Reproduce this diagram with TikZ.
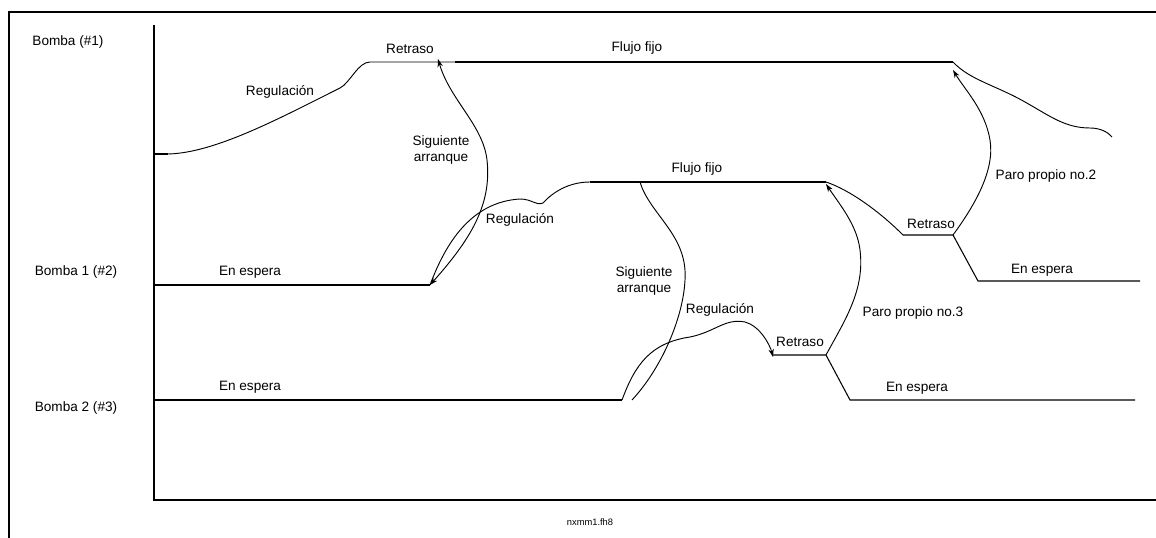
\documentclass[tikz,border=0pt]{standalone}
\usepackage{fontspec}
\setmainfont{Liberation Sans}
\usetikzlibrary{arrows.meta}

\begin{document}
\begin{tikzpicture}[x=0.75pt,y=-0.75pt,
		lbl/.style={inner sep=0pt, font=\fontsize{10.2}{11.5}\selectfont},
		lbl2/.style={lbl, align=center},
		frame/.style={line width=1.4pt},
		run/.style={line width=0.8pt},
		fixed/.style={line width=1.6pt},
		link/.style={line width=0.7pt},
		tip/.style={-{Stealth[length=6pt,width=4pt]}}]
			\useasboundingbox (0,0) rectangle (1156,538);

			% frame and axes
			\coordinate (fa) at (9,12);
			\coordinate (fb) at (1156,12);
			\coordinate (fc) at (9,538);
			\coordinate (o) at (154,500);
			\coordinate (yt) at (154,25);
			\coordinate (xr) at (1156,500);
			\draw[frame] (fc) -- (fa) -- (fb);
			\draw[frame] (yt) -- (o) -- (xr);

			% row names
			\node	(n1) at (68,42) [lbl] {Bomba (\#1)};
			\node	(n2) at (76,272) [lbl] {Bomba 1 (\#2)};
			\node	(n3) at (76,408) [lbl] {Bomba 2 (\#3)};

			% Bomba (#1)
			\coordinate (a0) at (154,154);
			\coordinate (a1) at (168,154);
			\coordinate (a2) at (340,88);
			\coordinate (a3) at (370,62);
			\coordinate (a4) at (455,62);
			\coordinate (a5) at (953,62);
			\coordinate (a6) at (1025,102);
			\coordinate (a7) at (1090,128);
			\coordinate (a8) at (1112,137);
			\draw[fixed] (a0) -- (a1);
			\draw[link] (a1) .. controls (215,153) and (280,118) .. (a2)
				.. controls (350,83) and (358,62) .. (a3) -- (a4);
			\draw[fixed] (a4) -- (a5);
			\draw[link] (a5) .. controls (970,80) and (995,85) .. (a6)
				.. controls (1050,116) and (1065,128) .. (a7)
				.. controls (1100,128) and (1108,132) .. (a8);

			\node	(r1) at (280,92) [lbl] {Regulación};
			\node	(d1) at (410,49) [lbl] {Retraso};
			\node	(f1) at (637,48) [lbl] {Flujo fijo};

			% Bomba 1 (#2)
			\coordinate (b0) at (154,285);
			\coordinate (b1) at (430,285);
			\coordinate (b2) at (520,199);
			\coordinate (b3) at (543,203);
			\coordinate (b4) at (590,182);
			\coordinate (b5) at (826,182);
			\coordinate (b6) at (903,235);
			\coordinate (b7) at (953,235);
			\coordinate (b8) at (978,281);
			\coordinate (b9) at (1140,281);
			\draw[run] (b0) -- (b1);
			\draw[link] (b1) .. controls (445,245) and (470,202) .. (b2)
				.. controls (532,199) and (536,206) .. (b3)
				.. controls (552,193) and (568,182) .. (b4);
			\draw[run] (b4) -- (b5);
			\draw[link] (b5) .. controls (850,190) and (880,212) .. (b6);
			\draw[run] (b6) -- (b7) -- (b8) -- (b9);

			\node	(e2) at (250,272) [lbl] {En espera};
			\node	(r2) at (520,220) [lbl] {Regulación};
			\node	(f2) at (697,169) [lbl] {Flujo fijo};
			\node	(d2) at (931,224) [lbl] {Retraso};
			\node	(w2) at (1042,270) [lbl] {En espera};

			% Bomba 2 (#3)
			\coordinate (c0) at (154,400);
			\coordinate (c1) at (622,400);
			\coordinate (c2) at (690,337);
			\coordinate (c3) at (745,322);
			\coordinate (c4) at (773,357);
			\coordinate (c5) at (773,355);
			\coordinate (c6) at (826,355);
			\coordinate (c7) at (850,400);
			\coordinate (c8) at (1135,400);
			\draw[run] (c0) -- (c1);
			\draw[link,tip] (c1) .. controls (635,365) and (650,343) .. (c2)
				.. controls (715,332) and (725,318) .. (c3)
				.. controls (760,326) and (770,345) .. (c4);
			\draw[run] (c5) -- (c6) -- (c7) -- (c8);

			\node	(e3) at (250,387) [lbl] {En espera};
			\node	(r3) at (720,310) [lbl] {Regulación};
			\node	(d3) at (800,342) [lbl] {Retraso};
			\node	(w3) at (917,388) [lbl] {En espera};

			% starts and stops between the pumps
			\coordinate (s1) at (438,59);
			\coordinate (s2) at (640,182);
			\coordinate (s3) at (632,400);
			\coordinate (p2) at (953,70);
			\coordinate (p3) at (826,184);
			\draw[link,{Stealth[length=6pt,width=4pt]}-{Stealth[length=6pt,width=4pt]}]
				(b1) .. controls (470,240) and (492,205) .. (487,160)
				.. controls (483,125) and (450,100) .. (s1);
			\draw[link] (s2) .. controls (650,215) and (688,235) .. (685,280)
				.. controls (683,320) and (660,370) .. (s3);
			\draw[link,tip] (b7) .. controls (975,205) and (995,170) .. (990,140)
				.. controls (985,110) and (965,90) .. (p2);
			\draw[link,tip] (c6) .. controls (845,320) and (865,290) .. (860,250)
				.. controls (857,225) and (840,205) .. (p3);

			\node	(q1) at (441,150) [lbl2] {Siguiente\\arranque};
			\node	(q2) at (644,281) [lbl2] {Siguiente\\arranque};
			\node	(k2) at (1046,176) [lbl] {Paro propio no.2};
			\node	(k3) at (913,313) [lbl] {Paro propio no.3};

			\node	(tag) at (590,522) [lbl, font=\fontsize{7}{8}\selectfont] {nxmm1.fh8};
		\end{tikzpicture}
\end{document}
